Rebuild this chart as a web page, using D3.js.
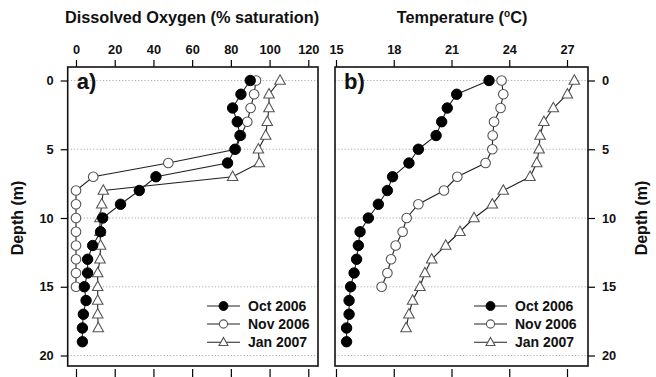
<!DOCTYPE html>
<html>
<head>
<meta charset="utf-8">
<script src="https://cdn.jsdelivr.net/npm/d3@7"></script>
<style>
  html, body { margin: 0; padding: 0; background: #fff; }
  svg { display: block; font-family: "Liberation Sans", Arial, sans-serif; font-weight: bold; }
</style>
</head>
<body>
<svg id="chart" width="656" height="377"></svg>
<script>
// Sampling depths (m) for each survey
const depthOct = [0,1,2,3,4,5,6,7,8,9,10,11,12,13,14,15,16,17,18,19];
const depthNov = [0,1,2,3,4,5,6,7,8,9,10,11,12,13,14,15];
const depthJan = [0,1,2,3,4,5,6,7,8,9,10,11,12,13,14,15,16,17,18];

// Dissolved oxygen (% saturation)
const doOct = [90,85.2,80.9,83.3,84.7,82.1,78.3,41.3,32.7,23,13.8,12.7,8.6,6,6,4.3,5.2,3.8,3.3,3.3];
const doNov = [93,92,90.2,88.5,85.2,82.6,47.7,8.9,0,0,0,0,0,0,0,0];
const doJan = [105.4,99.7,99.7,98.8,98,94.2,94.7,80.9,14.1,13.3,12.4,12.4,12.7,12.4,11.2,11.2,11.2,11.2,11.5];

// Water temperature (°C)
const tOct = [22.95,21.27,20.78,20.49,20.2,19.28,18.79,17.94,17.67,17.2,16.68,16.25,16.16,16.07,15.94,15.76,15.68,15.68,15.55,15.55];
const tNov = [23.6,23.69,23.55,23.21,23.14,23.12,22.77,21.3,20.61,19.28,18.67,18.46,18.1,17.86,17.67,17.37];
const tJan = [27.38,27.02,26.29,25.8,25.6,25.55,25.43,25.08,23.69,23.12,22.17,21.44,20.7,19.97,19.62,19.36,18.98,18.79,18.64];

// Axis ticks
const doTicks = [0,20,40,60,80,100,120];
const tempTicks = [15,18,21,24,27];
const depthTicks = [0,5,10,15,20];
const seriesNames = ["Oct 2006","Nov 2006","Jan 2007"];

const svg = d3.select("#chart");
const boxTop = 67, boxBottom = 366;

const y = d3.scaleLinear().domain([0,20]).range([80.5,355.5]);

const panels = [
  {
    key: "a", label: "a)",
    left: 67.7, right: 318,
    x: d3.scaleLinear().domain([0,120]).range([76,308.3]),
    ticks: doTicks, depthSide: "left",
    series: [
      {name: seriesNames[0], depth: depthOct, vals: doOct, shape: "fill"},
      {name: seriesNames[1], depth: depthNov, vals: doNov, shape: "circle"},
      {name: seriesNames[2], depth: depthJan, vals: doJan, shape: "tri"}
    ],
    legendX: 207
  },
  {
    key: "b", label: "b)",
    left: 335, right: 588,
    x: d3.scaleLinear().domain([15,27]).range([336,567]),
    ticks: tempTicks, depthSide: "right",
    series: [
      {name: seriesNames[0], depth: depthOct, vals: tOct, shape: "fill"},
      {name: seriesNames[1], depth: depthNov, vals: tNov, shape: "circle"},
      {name: seriesNames[2], depth: depthJan, vals: tJan, shape: "tri"}
    ],
    legendX: 474
  }
];

function drawMarker(g, shape, cx, cy, s) {
  if (shape === "fill") {
    g.append("circle").attr("cx", cx).attr("cy", cy).attr("r", 5.2 * s)
      .attr("fill", "#000").attr("stroke", "#000").attr("stroke-width", 1);
  } else if (shape === "circle") {
    g.append("circle").attr("cx", cx).attr("cy", cy).attr("r", 4.8 * s)
      .attr("fill", "#fff").attr("stroke", "#555").attr("stroke-width", 1.1);
  } else {
    const h = 9.5 * s, w = 10.5 * s;
    g.append("path")
      .attr("d", `M${cx},${cy - h * 0.6}L${cx + w / 2},${cy + h * 0.4}L${cx - w / 2},${cy + h * 0.4}Z`)
      .attr("fill", "#fff").attr("stroke", "#555").attr("stroke-width", 1.1);
  }
}

panels.forEach(p => {
  const g = svg.append("g");
  const x = p.x;

  // white panel backdrop
  g.append("rect").attr("x", p.left).attr("y", boxTop)
    .attr("width", p.right - p.left).attr("height", boxBottom - boxTop).attr("fill", "#fff");

  // dotted depth gridlines
  g.selectAll("line.grid").data(depthTicks).join("line")
    .attr("x1", p.left).attr("x2", p.right)
    .attr("y1", d => y(d)).attr("y2", d => y(d))
    .attr("stroke", "#999").attr("stroke-width", 0.8).attr("stroke-dasharray", "1.2,2");

  // top axis with labels
  const top = g.append("g").attr("transform", `translate(0,${boxTop})`)
    .call(d3.axisTop(x).tickValues(p.ticks).tickSize(7).tickPadding(6).tickFormat(d3.format("d")));
  top.select(".domain").remove();
  top.selectAll("line").attr("stroke", "#000").attr("stroke-width", 1.2);
  top.selectAll("text").attr("font-size", 12.8).attr("font-weight", "bold")
    .attr("font-family", "Liberation Sans, Arial, sans-serif").attr("fill", "#111");

  // bottom ticks without labels
  const bot = g.append("g").attr("transform", `translate(0,${boxBottom + 3})`)
    .call(d3.axisBottom(x).tickValues(p.ticks).tickSize(8).tickFormat(""));
  bot.select(".domain").remove();
  bot.selectAll("line").attr("stroke", "#000").attr("stroke-width", 1.2);

  // depth axis
  const isLeft = p.depthSide === "left";
  const ax = isLeft ? d3.axisLeft(y) : d3.axisRight(y);
  const dep = g.append("g").attr("transform", `translate(${isLeft ? p.left : p.right},0)`)
    .call(ax.tickValues(depthTicks).tickSize(7).tickPadding(7).tickFormat(d3.format("d")));
  dep.select(".domain").remove();
  dep.selectAll("line").attr("stroke", "#000").attr("stroke-width", 1.2);
  dep.selectAll("text").attr("font-size", 12.8).attr("font-weight", "bold")
    .attr("font-family", "Liberation Sans, Arial, sans-serif").attr("fill", "#111");

  // depth axis title
  const yx = isLeft ? 23 : 647;
  g.append("text").attr("transform", `translate(${yx},218) rotate(-90)`)
    .attr("text-anchor", "middle").attr("font-size", 16).attr("fill", "#111").text("Depth (m)");

  // panel title
  const title = g.append("text").attr("x", isLeft ? 192 : 462).attr("y", 23)
    .attr("text-anchor", "middle").attr("font-size", 16.3).attr("fill", "#111");
  if (isLeft) {
    title.text("Dissolved Oxygen (% saturation)");
  } else {
    title.append("tspan").text("Temperature (");
    title.append("tspan").attr("font-size", 10).attr("dy", -6).text("o");
    title.append("tspan").attr("dy", 6).text("C)");
  }

  // profiles
  const line = d3.line().x(d => x(d[0])).y(d => y(d[1]));
  p.series.forEach(s => {
    const pts = s.vals.map((v, i) => [v, s.depth[i]]);
    g.append("path").datum(pts).attr("d", line)
      .attr("fill", "none").attr("stroke", "#222").attr("stroke-width", 1.1);
  });
  // markers drawn after lines; later series on top
  p.series.slice().reverse().forEach(s => {
    const mg = g.append("g");
    s.vals.forEach((v, i) => drawMarker(mg, s.shape, x(v), y(s.depth[i]), 1));
  });

  // panel letter
  g.append("text").attr("x", p.left + 9).attr("y", 89)
    .attr("font-size", 22).attr("fill", "#111").text(p.label);

  // legend
  const legY = [306, 324, 342.3];
  p.series.forEach((s, i) => {
    const lg = g.append("g");
    lg.append("line").attr("x1", p.legendX).attr("x2", p.legendX + 33)
      .attr("y1", legY[i]).attr("y2", legY[i]).attr("stroke", "#222").attr("stroke-width", 1.1);
    drawMarker(lg, s.shape, p.legendX + 16.5, legY[i], 0.85);
    lg.append("text").attr("x", p.legendX + 41).attr("y", legY[i] + 5)
      .attr("font-size", 14).attr("fill", "#111").text(s.name);
  });

  // frame
  g.append("rect").attr("x", p.left).attr("y", boxTop)
    .attr("width", p.right - p.left).attr("height", boxBottom - boxTop)
    .attr("fill", "none").attr("stroke", "#111").attr("stroke-width", 1.6);
});
</script>
</body>
</html>
